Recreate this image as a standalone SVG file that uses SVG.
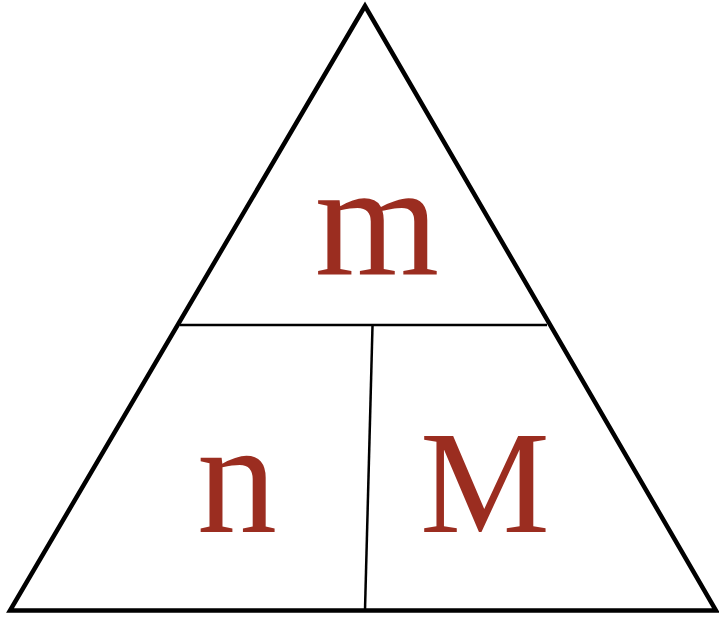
<svg xmlns="http://www.w3.org/2000/svg" width="719" height="617" viewBox="0 0 719 617">
<style>
.lbl{font-family:"Liberation Serif","Times New Roman",serif;fill:#9b2d20;text-anchor:middle}
.edge{stroke:#000;fill:none}
</style>
<rect width="719" height="617" fill="#fff"/>
<g id="triangle">
<polygon points="365,6 10,610.5 716,610.5" fill="none" stroke="#000" stroke-width="4.5" stroke-linejoin="miter"/>
</g>
<g id="connectors">
<line class="edge" x1="180" y1="325" x2="547" y2="325" stroke-width="2.5"/>
<line class="edge" x1="372.5" y1="326" x2="365" y2="610" stroke-width="2.5"/>
</g>
<g id="node-m"><text class="lbl" x="377" y="274" font-size="160">m</text></g>
<g id="node-n"><text class="lbl" x="237" y="532" font-size="160">n</text></g>
<g id="node-M"><text class="lbl" x="485" y="532" font-size="146">M</text></g>
</svg>
